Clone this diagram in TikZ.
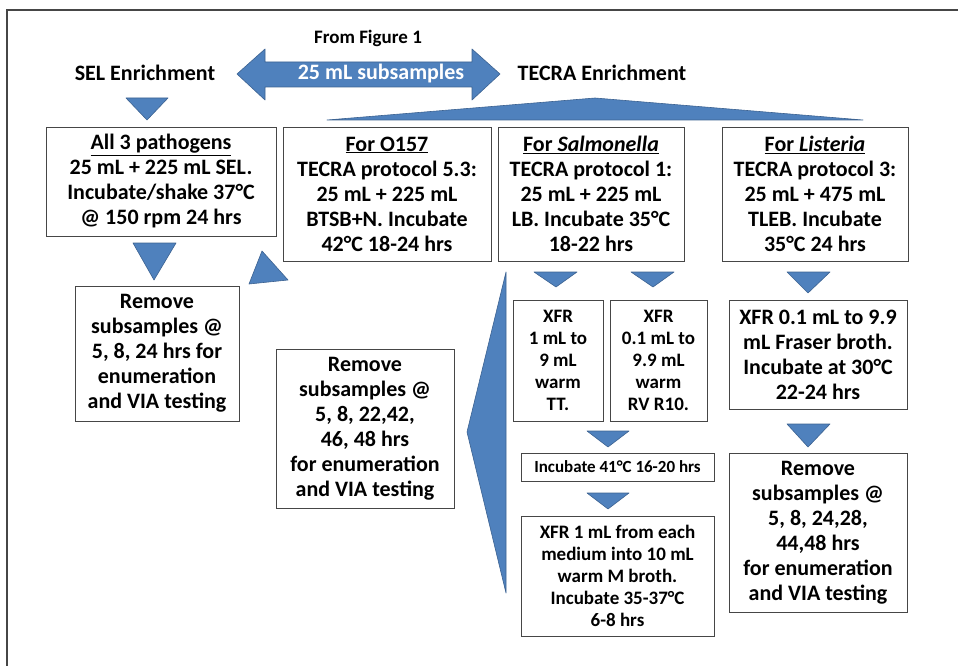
\documentclass[tikz,border=0pt]{standalone}
\usepackage{fontspec}
\setmainfont{Carlito}
\usepackage{xcolor}
\definecolor{ArrowBlue}{RGB}{79,129,189}
\definecolor{ArrowEdge}{RGB}{60,98,145}
\definecolor{BoxLine}{RGB}{70,70,70}

\begin{document}
\begin{tikzpicture}[x=1pt,y=-1pt]
  \tikzset{BoxStyle/.style={draw=BoxLine, line width=0.9pt, inner sep=0pt,
                            align=flush center, font=\bfseries\fontsize{22}{25}\selectfont},
           SmallBoxStyle/.style={BoxStyle, font=\bfseries\fontsize{19}{22}\selectfont},
           LabelStyle/.style={inner sep=0pt, font=\bfseries\fontsize{22}{25}\selectfont},
           ArrowStyle/.style={fill=ArrowBlue, draw=ArrowEdge, line width=0.6pt, line join=round}}
  \useasboundingbox (0,0) rectangle (958,666);
  \clip (0,0) rectangle (958,666);
  \draw[BoxLine, line width=1.4pt] (7,690) -- (7,10) -- (980,10);

  %% headings
  \node[LabelStyle, font=\bfseries\fontsize{19}{22}\selectfont] (from) at (368,38) {From Figure 1};
  \node[LabelStyle] (sel) at (145,73) {SEL Enrichment};
  \node[LabelStyle] (tecra) at (602,73) {TECRA Enrichment};
  \filldraw[ArrowStyle] (237,74) -- (265,49) -- (265,62) -- (472,62) -- (472,49) -- (500,74)
    -- (472,100) -- (472,87) -- (265,87) -- (265,100) -- cycle;
  \node[LabelStyle, text=white] (sub) at (381,74) {25 mL subsamples};

  %% enrichment boxes
  \node[BoxStyle, text width=230, minimum height=109] (all3) at (161,181.5)
    {\underline{All 3 pathogens}\\25 mL + 225 mL SEL.\\Incubate/shake 37°C\\@ 150 rpm 24 hrs};
  \node[BoxStyle, text width=208, minimum height=134] (o157) at (387,194)
    {\underline{For O157}\\TECRA protocol 5.3:\\25 mL + 225 mL\\BTSB+N. Incubate\\42°C 18-24 hrs};
  \node[BoxStyle, text width=186, minimum height=134] (salm) at (591,194)
    {\underline{For \textit{Salmonella}}\\TECRA protocol 1:\\25 mL + 225 mL\\LB. Incubate 35°C\\18-22 hrs};
  \node[BoxStyle, text width=186, minimum height=134] (list) at (815,194)
    {\underline{For \textit{Listeria}}\\TECRA protocol 3:\\25 mL + 475 mL\\TLEB. Incubate\\35°C 24 hrs};

  %% second level
  \node[BoxStyle, text width=164, minimum height=135] (rem1) at (157,353.5)
    {Remove\\subsamples @\\5, 8, 24 hrs for\\enumeration\\and VIA testing};
  \node[BoxStyle, text width=178, minimum height=159] (rem2) at (365,428.5)
    {Remove\\subsamples @\\5, 8, 22,42,\\46, 48 hrs\\for enumeration\\and VIA testing};
  \node[SmallBoxStyle, text width=90, minimum height=121] (xfr1) at (558,360.5)
    {XFR\\1 mL to\\9 mL\\warm\\TT.};
  \node[SmallBoxStyle, text width=97, minimum height=121] (xfr2) at (658.5,360.5)
    {XFR\\0.1 mL to\\9.9 mL\\warm\\RV R10.};
  \node[BoxStyle, text width=178, minimum height=109] (fraser) at (818,354.5)
    {XFR 0.1 mL to 9.9\\mL Fraser broth.\\Incubate at 30°C\\22-24 hrs};
  \node[BoxStyle, font=\bfseries\fontsize{17}{20}\selectfont, text width=193, minimum height=28] (inc) at (617.5,467)
    {Incubate 41°C 16-20 hrs};
  \node[SmallBoxStyle, text width=193, minimum height=120] (mbroth) at (617.5,576)
    {XFR 1 mL from each\\medium into 10 mL\\warm M broth.\\Incubate 35-37°C\\6-8 hrs};
  \node[BoxStyle, text width=178, minimum height=159] (rem3) at (818,532.5)
    {Remove\\subsamples @\\5, 8, 24,28,\\44,48 hrs\\for enumeration\\and VIA testing};

  %% block arrows
  \filldraw[ArrowStyle] (126,98) -- (168,98) -- (147,120) -- cycle;
  \filldraw[ArrowStyle] (327,120) -- (595,98) -- (863,120) -- cycle;
  \filldraw[ArrowStyle] (133,243) -- (176,243) -- (154,280) -- cycle;
  \filldraw[ArrowStyle] (262,251) -- (288,280) -- (249,284) -- cycle;
  \filldraw[ArrowStyle] (506,272) -- (506,593) -- (467,432) -- cycle;
  \filldraw[ArrowStyle] (534,272) -- (577,272) -- (556,287) -- cycle;
  \filldraw[ArrowStyle] (631,272) -- (674,272) -- (653,287) -- cycle;
  \filldraw[ArrowStyle] (787,272) -- (830,272) -- (808,293) -- cycle;
  \filldraw[ArrowStyle] (587,431) -- (629,431) -- (608,447) -- cycle;
  \filldraw[ArrowStyle] (587,493) -- (629,493) -- (608,509) -- cycle;
  \filldraw[ArrowStyle] (787,424) -- (830,424) -- (808,447) -- cycle;
\end{tikzpicture}
\end{document}
